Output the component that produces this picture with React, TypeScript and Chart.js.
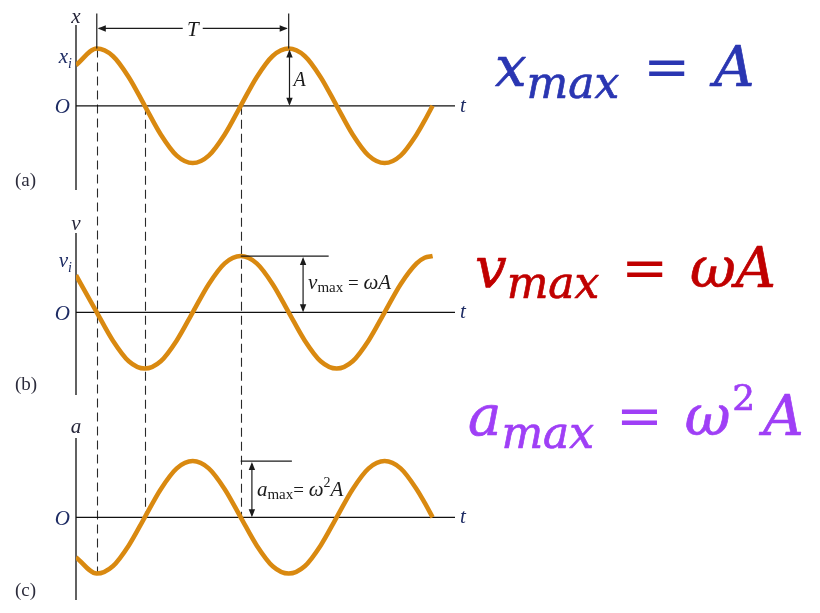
import { useEffect, useRef } from "react";
import { Chart, registerables } from "chart.js";

Chart.register(...registerables);

// Time samples in twelfths of a period; the first sample sits on the vertical axis.
const timeSamples = [-1.3, 0, 1, 2, 3, 4, 5, 6, 7, 8, 9, 10, 11, 12, 13, 14, 15, 16, 17, 18, 19, 20, 20.5, 21];
// Displacement x / A
const positionValues = [0.71, 1, 0.87, 0.5, 0, -0.5, -0.87, -1, -0.87, -0.5, 0, 0.5, 0.87, 1, 0.87, 0.5, 0, -0.5, -0.87, -1, -0.87, -0.5, -0.26, 0];
// Velocity v / (ωA)
const velocityValues = [0.66, 0, -0.5, -0.87, -1, -0.87, -0.5, 0, 0.5, 0.87, 1, 0.87, 0.5, 0, -0.5, -0.87, -1, -0.87, -0.5, 0, 0.5, 0.87, 0.97, 1];
// Acceleration a / (ω²A)
const accelerationValues = [-0.71, -1, -0.87, -0.5, 0, 0.5, 0.87, 1, 0.87, 0.5, 0, -0.5, -0.87, -1, -0.87, -0.5, 0, 0.5, 0.87, 1, 0.87, 0.5, 0.26, 0];

// Dashed guides: first x maximum, first x = 0 crossing, next x = 0 crossing
const guideTimes = [0, 3, 9];
const guideStartInX = [1, 0, 0];
const guideEndInA = [-1, 0, 0];
// Period bracket T and amplitude A
const periodStart = 0;
const periodEnd = 12;
const amplitudeTime = 12.05;
// v_max and a_max markers
const vMaxLine = [9, 14.5];
const vMaxArrow = 12.9;
const aMaxLine = [9, 12.2];
const aMaxArrow = 9.7;

const T_MIN = -1.3;
const T_MAX = 22.4;
const Y_MIN = -1.47;
const Y_MAX = 1.41;

const CURVE = "#D98910";
const INK = "#1b1b1b";
const NAVY = "#1d2b63";
const SERIF = '"Liberation Serif", "Times New Roman", serif';
const MATH = '"DejaVu Serif", serif';
const it = (px: number) => `italic ${px}px ${SERIF}`;
const rm = (px: number) => `${px}px ${SERIF}`;
const mit = (px: number) => `italic ${px}px ${MATH}`;
const mrm = (px: number) => `${px}px ${MATH}`;

type Run = { text: string; font: string; dy?: number; dx?: number; plain?: boolean };

function drawRuns(
  ctx: CanvasRenderingContext2D,
  x: number,
  y: number,
  runs: Run[],
  color: string,
  align: "left" | "right" | "center" = "left",
  weight = 0
) {
  ctx.save();
  ctx.fillStyle = color;
  ctx.strokeStyle = color;
  ctx.lineWidth = weight;
  ctx.lineJoin = "round";
  ctx.textAlign = "left";
  ctx.textBaseline = "alphabetic";
  const widths = runs.map((r) => {
    ctx.font = r.font;
    return ctx.measureText(r.text).width + (r.dx || 0);
  });
  const total = widths.reduce((s, w) => s + w, 0);
  let cx = align === "right" ? x - total : align === "center" ? x - total / 2 : x;
  runs.forEach((r, i) => {
    ctx.font = r.font;
    const px = cx + (r.dx || 0);
    ctx.fillText(r.text, px, y + (r.dy || 0));
    if (weight > 0 && !r.plain) ctx.strokeText(r.text, px, y + (r.dy || 0));
    cx += widths[i];
  });
  ctx.restore();
}

function head(ctx: CanvasRenderingContext2D, x: number, y: number, dx: number, dy: number) {
  // filled arrow head with its tip at (x, y), pointing along (dx, dy)
  const len = 8;
  const half = 3.2;
  const px = -dy;
  const py = dx;
  ctx.beginPath();
  ctx.moveTo(x, y);
  ctx.lineTo(x - dx * len + px * half, y - dy * len + py * half);
  ctx.lineTo(x - dx * len - px * half, y - dy * len - py * half);
  ctx.closePath();
  ctx.fill();
}

function line(ctx: CanvasRenderingContext2D, x1: number, y1: number, x2: number, y2: number, width = 1, color = INK) {
  ctx.save();
  ctx.strokeStyle = color;
  ctx.lineWidth = width;
  ctx.beginPath();
  ctx.moveTo(x1, y1);
  ctx.lineTo(x2, y2);
  ctx.stroke();
  ctx.restore();
}

function doubleArrowV(ctx: CanvasRenderingContext2D, x: number, yTop: number, yBottom: number) {
  line(ctx, x, yTop + 2, x, yBottom - 2, 1.2);
  ctx.save();
  ctx.fillStyle = INK;
  head(ctx, x, yTop, 0, -1);
  head(ctx, x, yBottom, 0, 1);
  ctx.restore();
}

function drawAxes(chart: Chart) {
  const { ctx, chartArea } = chart;
  const y0 = chart.scales.y.getPixelForValue(0);
  line(ctx, chartArea.left, chartArea.top, chartArea.left, chartArea.bottom, 1.6, "#3a3a3a");
  line(ctx, chartArea.left, y0, chartArea.right, y0, 1.3, "#111");
}

function drawOandT(chart: Chart, oDy: number) {
  const { ctx, chartArea } = chart;
  const y0 = chart.scales.y.getPixelForValue(0);
  drawRuns(ctx, chartArea.left - 6, y0 + oDy, [{ text: "O", font: it(21) }], NAVY, "right");
  drawRuns(ctx, chartArea.right + 5, y0 + 6, [{ text: "t", font: it(21) }], NAVY);
}

const registry: { a?: Chart; b?: Chart } = {};

const panelA = {
  id: "panelA",
  beforeDatasetsDraw(chart: Chart) {
    drawAxes(chart);
  },
  afterDatasetsDraw(chart: Chart) {
    const { ctx, chartArea } = chart;
    const xs = chart.scales.x;
    const ys = chart.scales.y;
    const y0 = ys.getPixelForValue(0);
    const yPeak = ys.getPixelForValue(1);

    // period bracket
    const xa = xs.getPixelForValue(periodStart);
    const xb = xs.getPixelForValue(periodEnd);
    const yTop = ys.getPixelForValue(1.61);
    const yBar = ys.getPixelForValue(1.35);
    line(ctx, xa, yTop, xa, yPeak, 1.2);
    line(ctx, xb, yTop, xb, yPeak, 1.2);
    const mid = (xa + xb) / 2;
    line(ctx, xa + 2, yBar, mid - 10, yBar, 1.2);
    line(ctx, mid + 10, yBar, xb - 2, yBar, 1.2);
    ctx.save();
    ctx.fillStyle = INK;
    head(ctx, xa + 1, yBar, -1, 0);
    head(ctx, xb - 1, yBar, 1, 0);
    ctx.restore();
    drawRuns(ctx, mid, yBar + 8, [{ text: "T", font: it(21) }], INK, "center");

    // amplitude
    const xA = xs.getPixelForValue(amplitudeTime);
    doubleArrowV(ctx, xA, yPeak + 1, y0);
    drawRuns(ctx, xA + 4, y0 - 20, [{ text: "A", font: it(20) }], INK);

    // labels
    drawRuns(ctx, chartArea.left, chartArea.top - 2, [{ text: "x", font: it(21) }], "#26263a", "center");
    drawRuns(ctx, chartArea.left - 4, ys.getPixelForValue(positionValues[0]) - 2, [
      { text: "x", font: it(21) },
      { text: "i", font: it(14), dy: 5 },
    ], NAVY, "right");
    drawOandT(chart, 7);
    drawRuns(ctx, 15, chartArea.bottom - 4, [{ text: "(a)", font: rm(19) }], "#2b2b3b");

    // x_max = A
    drawRuns(ctx, 495, 86, [
      { text: "x", font: mit(56) },
      { text: "max", font: mit(44), dy: 12 },
      { text: " = ", font: mrm(56), dx: 6, plain: true },
      { text: "A", font: mit(56), dx: 6 },
    ], "#2A36B2", "left", 0.7);
  },
};

const panelB = {
  id: "panelB",
  beforeDatasetsDraw(chart: Chart) {
    drawAxes(chart);
  },
  afterDatasetsDraw(chart: Chart) {
    const { ctx, chartArea } = chart;
    const xs = chart.scales.x;
    const ys = chart.scales.y;
    const y0 = ys.getPixelForValue(0);
    const yPeak = ys.getPixelForValue(1);

    line(ctx, xs.getPixelForValue(vMaxLine[0]), yPeak, xs.getPixelForValue(vMaxLine[1]), yPeak, 1.2);
    const xv = xs.getPixelForValue(vMaxArrow);
    doubleArrowV(ctx, xv, yPeak + 1, y0);
    drawRuns(ctx, xv + 5, y0 - 23, [
      { text: "v", font: it(21) },
      { text: "max", font: rm(15), dy: 3 },
      { text: " = ", font: rm(19) },
      { text: "ωA", font: it(21) },
    ], INK);

    drawRuns(ctx, chartArea.left, chartArea.top - 3, [{ text: "v", font: it(21) }], "#26263a", "center");
    drawRuns(ctx, chartArea.left - 4, y0 - 45, [
      { text: "v", font: it(21) },
      { text: "i", font: it(14), dy: 5 },
    ], NAVY, "right");
    drawOandT(chart, 8);
    drawRuns(ctx, 15, chartArea.bottom - 5, [{ text: "(b)", font: rm(19) }], "#2b2b3b");

    // v_max = ωA
    drawRuns(ctx, 475, 287, [
      { text: "v", font: mit(56) },
      { text: "max", font: mit(44), dy: 11 },
      { text: " = ", font: mrm(56), dx: 4, plain: true },
      { text: "ωA", font: mit(56), dx: 4 },
    ], "#C00000", "left", 0.7);
  },
};

const panelC = {
  id: "panelC",
  beforeDatasetsDraw(chart: Chart) {
    const { ctx } = chart;
    const xs = chart.scales.x;
    const ys = chart.scales.y;
    const yA = registry.a ? registry.a.scales.y : ys;
    // dashed guides running down through all three graphs
    ctx.save();
    ctx.strokeStyle = "#2a2a2a";
    ctx.lineWidth = 1.1;
    ctx.setLineDash([9, 5]);
    guideTimes.forEach((t, i) => {
      const x = Math.round(xs.getPixelForValue(t)) + 0.5;
      ctx.beginPath();
      ctx.moveTo(x, yA.getPixelForValue(guideStartInX[i]));
      ctx.lineTo(x, ys.getPixelForValue(guideEndInA[i]));
      ctx.stroke();
    });
    ctx.restore();
    drawAxes(chart);
  },
  afterDatasetsDraw(chart: Chart) {
    const { ctx, chartArea } = chart;
    const xs = chart.scales.x;
    const ys = chart.scales.y;
    const y0 = ys.getPixelForValue(0);
    const yPeak = ys.getPixelForValue(1);

    line(ctx, xs.getPixelForValue(aMaxLine[0]), yPeak, xs.getPixelForValue(aMaxLine[1]), yPeak, 1.2);
    const xa = xs.getPixelForValue(aMaxArrow);
    doubleArrowV(ctx, xa, yPeak + 1, y0);
    drawRuns(ctx, xa + 5, y0 - 21, [
      { text: "a", font: it(21) },
      { text: "max", font: rm(15), dy: 3 },
      { text: "= ", font: rm(19) },
      { text: "ω", font: it(21) },
      { text: "2", font: rm(14), dy: -9 },
      { text: "A", font: it(21) },
    ], INK);

    drawRuns(ctx, chartArea.left, chartArea.top - 5, [{ text: "a", font: it(21) }], "#26263a", "center");
    drawOandT(chart, 8);
    drawRuns(ctx, 15, chartArea.bottom - 4, [{ text: "(c)", font: rm(19) }], "#2b2b3b");

    // a_max = ω²A
    drawRuns(ctx, 468, 435, [
      { text: "a", font: mit(56) },
      { text: "max", font: mit(44), dy: 13 },
      { text: " = ", font: mrm(56), dx: 4, plain: true },
      { text: "ω", font: mit(56), dx: 4 },
      { text: "2", font: mrm(36), dy: -25, dx: 2 },
      { text: "A", font: mit(56), dx: 8 },
    ], "#9F3FF6", "left", 0.7);
  },
};

function makeChart(
  canvas: HTMLCanvasElement,
  values: number[],
  padding: { left: number; right: number; top: number; bottom: number },
  plugin: any
) {
  return new Chart(canvas, {
    type: "line",
    data: {
      datasets: [
        {
          data: timeSamples.map((t, i) => ({ x: t, y: values[i] })),
          borderColor: CURVE,
          borderWidth: 4.6,
          pointRadius: 0,
          cubicInterpolationMode: "monotone",
          fill: false,
        },
      ],
    },
    options: {
      responsive: false,
      animation: false,
      devicePixelRatio: 1,
      events: [],
      layout: { padding },
      plugins: { legend: { display: false }, tooltip: { enabled: false } },
      scales: {
        x: { type: "linear", min: T_MIN, max: T_MAX, display: false },
        y: { type: "linear", min: Y_MIN, max: Y_MAX, display: false },
      },
    },
    plugins: [plugin],
  });
}

export default function App() {
  const aRef = useRef<HTMLCanvasElement>(null);
  const bRef = useRef<HTMLCanvasElement>(null);
  const cRef = useRef<HTMLCanvasElement>(null);

  useEffect(() => {
    if (!aRef.current || !bRef.current || !cRef.current) return;
    const a = makeChart(aRef.current, positionValues, { left: 76, right: 365, top: 25, bottom: 423 }, panelA);
    registry.a = a;
    const b = makeChart(bRef.current, velocityValues, { left: 76, right: 365, top: 233, bottom: 218 }, panelB);
    registry.b = b;
    const c = makeChart(cRef.current, accelerationValues, { left: 76, right: 365, top: 438, bottom: 13 }, panelC);
    return () => {
      c.destroy();
      b.destroy();
      a.destroy();
      registry.a = undefined;
      registry.b = undefined;
    };
  }, []);

  const layer: React.CSSProperties = { position: "absolute", left: 0, top: 0, width: 820, height: 613 };
  return (
    <div style={{ position: "fixed", left: 0, top: 0, width: 820, height: 613, background: "#fff", overflow: "hidden" }}>
      <canvas ref={cRef} width={820} height={613} style={layer} />
      <canvas ref={aRef} width={820} height={613} style={layer} />
      <canvas ref={bRef} width={820} height={613} style={layer} />
    </div>
  );
}
